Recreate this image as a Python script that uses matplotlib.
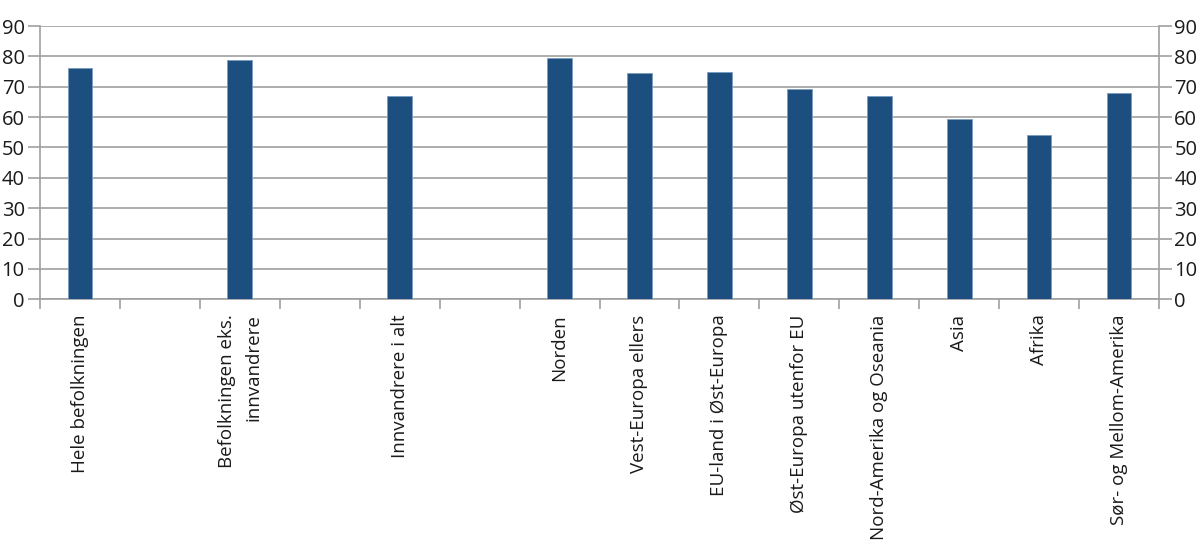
import matplotlib
matplotlib.use('Agg')
import matplotlib.pyplot as plt
import numpy as np

plt.rcParams['font.family'] = ['Open Sans', 'DejaVu Sans']

# empty strings are the gap slots between groups
categories = ['Hele befolkningen', '', 'Befolkningen eks.\ninnvandrere', '', 'Innvandrere i alt', '',
              'Norden', 'Vest-Europa ellers', 'EU-land i Øst-Europa', 'Øst-Europa utenfor EU',
              'Nord-Amerika og Oseania', 'Asia', 'Afrika', 'Sør- og Mellom-Amerika']
values = [76.3, None, 78.7, None, 67.1, None, 79.5, 74.5, 74.9, 69.3, 67.0, 59.4, 54.1, 67.8]
yticks = list(range(0, 91, 10))

bar_color = '#1c4f80'
grid_color = '#a0a0a0'
text_color = '#1a1a1a'

fig = plt.figure(figsize=(12, 5.57), dpi=100)
ax = fig.add_axes([40/1200, 1-299.3/557, 1119/1200, 273.3/557])

x = [i for i, v in enumerate(values) if v is not None]
h = [v for v in values if v is not None]
ax.bar(x, h, width=0.31, color=bar_color, edgecolor='#7a9cc0', linewidth=0.6, zorder=3)

ax.set_xlim(-0.5, len(categories) - 0.5)
ax.set_ylim(0, 90)
ax.set_yticks(yticks)
ax.yaxis.grid(True, color=grid_color, linewidth=1.2, zorder=0)

# boundary ticks (major) and centred labels (minor)
ax.set_xticks(np.arange(-0.5, len(categories), 1.0))
ax.set_xticklabels([])
ax.set_xticks(range(len(categories)), minor=True)
ax.set_xticklabels(categories, minor=True, rotation=90, fontsize=13.5, color=text_color,
                   ha='center', va='top', multialignment='right', linespacing=1.6)
ax.tick_params(axis='x', which='major', length=7, width=1.2, color=grid_color)
ax.tick_params(axis='x', which='minor', length=0, pad=11)

ax.tick_params(axis='y', which='both', length=9, width=1.2, color=grid_color,
               labelsize=14.5, labelcolor=text_color, left=True, right=True,
               labelleft=True, labelright=True, pad=2)

ax.spines['top'].set_visible(False)
for s in ['left', 'right', 'bottom']:
    ax.spines[s].set_color(grid_color)
    ax.spines[s].set_linewidth(1.2)

fig.savefig('out.png', dpi=100)
